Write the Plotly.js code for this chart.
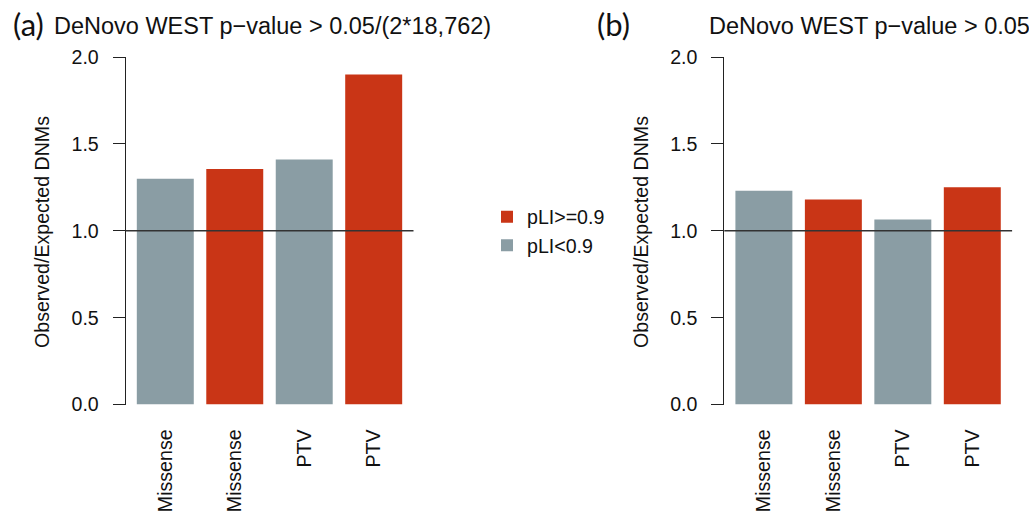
<!DOCTYPE html>
<html>
<head>
<meta charset="utf-8">
<script src="https://cdn.plot.ly/plotly-3.0.1.min.js"></script>
<style>html,body{margin:0;padding:0;background:#fff;}#chart{width:1029px;height:516px;}</style>
</head>
<body>
<div id="chart"></div>
<script>
// ---- data ----
var categories = ["Missense", "Missense", "PTV", "PTV"];
var groups = ["pLI<0.9", "pLI>=0.9", "pLI<0.9", "pLI>=0.9"];
var valuesA = [1.30, 1.355, 1.41, 1.90];   // p-value > 0.05/(2*18,762)
var valuesB = [1.23, 1.18, 1.065, 1.25];   // p-value > 0.05
var yTickVals = [0, 0.5, 1.0, 1.5, 2.0];
var yTickText = ["0.0", "0.5", "1.0", "1.5", "2.0"];
var legendNames = ["pLI>=0.9", "pLI<0.9"];
var titleA = "DeNovo WEST p\u2212value > 0.05/(2*18,762)";
var titleB = "DeNovo WEST p\u2212value > 0.05";
var yTitle = "Observed/Expected DNMs";
var refLine = 1.0;

// ---- style ----
var W = 1029, H = 516;
var colors = {"pLI>=0.9": "#C93516", "pLI<0.9": "#8A9DA4"};
var FONT = "'Liberation Sans', Arial, Helvetica, sans-serif";
function px(x) { return x / W; }
function py(y) { return 1 - y / H; }

var positions = categories.map(function (c, i) { return i; });

function makeTraces(values, xa, ya, showLegend) {
  return legendNames.map(function (g) {
    var xs = [], ys = [];
    values.forEach(function (v, i) {
      if (groups[i] === g) { xs.push(positions[i]); ys.push(v); }
    });
    return {
      type: "bar", x: xs, y: ys, width: 0.82, name: g,
      xaxis: xa, yaxis: ya, legendgroup: g, showlegend: showLegend,
      marker: {color: colors[g], line: {width: 0}},
      hoverinfo: "x+y"
    };
  });
}

var data = makeTraces(valuesA, "x", "y", true).concat(makeTraces(valuesB, "x2", "y2", false));

var yDom = [py(404.5), py(57)];
function xAxis(dom) {
  return {
    domain: dom, range: [-0.57, 3.573], tickmode: "array",
    tickvals: positions, ticktext: categories, tickangle: -90,
    ticks: "", showline: false, showgrid: false, zeroline: false,
    ticklabelstandoff: 20,
    tickfont: {family: FONT, size: 19.6, color: "#111"}, fixedrange: true
  };
}
function yAxis(anchor) {
  return {
    domain: yDom, range: [0, 2], anchor: anchor, tickmode: "array",
    tickvals: yTickVals, ticktext: yTickText,
    ticks: "outside", ticklen: 12, tickwidth: 1, tickcolor: "#222",
    showline: true, linecolor: "#222", linewidth: 1,
    showgrid: false, zeroline: false, ticklabelstandoff: 10,
    tickfont: {family: FONT, size: 19.6, color: "#111"}, fixedrange: true
  };
}

var layout = {
  width: W, height: H, autosize: false,
  margin: {l: 0, r: 0, t: 0, b: 0},
  paper_bgcolor: "#fff", plot_bgcolor: "#fff",
  barmode: "overlay", showlegend: true,
  font: {family: FONT, size: 19.6, color: "#111"},
  xaxis: xAxis([px(125.7), px(413.5)]),
  yaxis: yAxis("x"),
  xaxis2: Object.assign(xAxis([px(724.3), px(1012.1)]), {anchor: "y2"}),
  yaxis2: yAxis("x2"),
  legend: {
    x: px(487), xanchor: "left", y: py(231), yanchor: "middle",
    bgcolor: "rgba(0,0,0,0)", borderwidth: 0,
    font: {family: FONT, size: 19.6, color: "#111"}, tracegroupgap: 0
  },
  shapes: [
    {type: "line", xref: "x domain", x0: 0, x1: 1, yref: "y", y0: refLine, y1: refLine,
     line: {color: "#333", width: 1.3}, layer: "above"},
    {type: "line", xref: "x2 domain", x0: 0, x1: 1, yref: "y2", y0: refLine, y1: refLine,
     line: {color: "#333", width: 1.3}, layer: "above"}
  ],
  annotations: [
    {text: titleA, xref: "paper", yref: "paper", x: px(272), y: py(26), xanchor: "center", yanchor: "middle",
     showarrow: false, font: {family: FONT, size: 23.5, color: "#111"}},
    {text: titleB, xref: "paper", yref: "paper", x: px(869), y: py(26), xanchor: "center", yanchor: "middle",
     showarrow: false, font: {family: FONT, size: 23.5, color: "#111"}},
    {text: "(a)", xref: "paper", yref: "paper", x: px(11), y: py(24), xanchor: "left", yanchor: "middle",
     showarrow: false, font: {family: "Lato, 'Open Sans', sans-serif", size: 31, color: "#111"}},
    {text: "(b)", xref: "paper", yref: "paper", x: px(595), y: py(24), xanchor: "left", yanchor: "middle",
     showarrow: false, font: {family: "Lato, 'Open Sans', sans-serif", size: 31, color: "#111"}},
    {text: yTitle, xref: "paper", yref: "paper", x: px(42), y: py(232), xanchor: "center", yanchor: "middle",
     textangle: -90, showarrow: false, font: {family: FONT, size: 19.6, color: "#111"}},
    {text: yTitle, xref: "paper", yref: "paper", x: px(641), y: py(232), xanchor: "center", yanchor: "middle",
     textangle: -90, showarrow: false, font: {family: FONT, size: 19.6, color: "#111"}}
  ]
};

Plotly.newPlot("chart", data, layout, {staticPlot: true, displayModeBar: false});
</script>
</body>
</html>
